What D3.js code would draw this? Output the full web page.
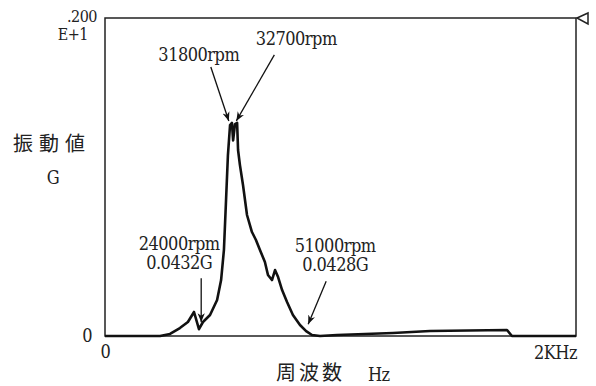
<!DOCTYPE html>
<html lang="ja">
<head>
<meta charset="UTF-8">
<title>振動値 - 周波数</title>
<script src="https://cdn.jsdelivr.net/npm/d3@7"></script>
<style>
  body{margin:0;background:#fff;}
  .num{font-family:"DejaVu Serif Condensed","DejaVu Serif",serif;font-size:18px;letter-spacing:-0.5px;fill:#222;}
  .sm{font-size:16px;}
  .jp{font-family:"Noto Sans CJK JP",sans-serif;font-size:20px;fill:#222;}
</style>
</head>
<body>
<div id="chart"></div>
<script>
// spectrum: frequency (Hz) and vibration (G)
var freqHz = [0,234,276,318,352,378,399,416,446,476,493,505,514,522,531,539,544,552,561,565,573,586,603,624,641,658,679,692,709,722,735,752,773,798,828,854,879,913,985,1223,1380,1707,1728,2000];
var gValue = [0,0,0.013,0.05,0.088,0.151,0.043,0.088,0.132,0.226,0.352,0.541,0.855,1.138,1.327,1.34,1.23,1.333,1.34,1.17,1.075,0.95,0.761,0.654,0.604,0.541,0.465,0.384,0.352,0.415,0.371,0.289,0.214,0.132,0.069,0.031,0.006,0,0.006,0.019,0.031,0.038,0,0];

// annotated points
var annRpm = [31800, 32700, 24000, 51000];
var annG   = [null, null, "0.0432G", "0.0428G"];

var xMax = 2000, yMax = 2.0;
var xTickLabels = ["0", "2KHz"];

var W=596,H=386;
var m={left:105,top:18,right:20,bottom:50};
var svg=d3.select("#chart").append("svg").attr("width",W).attr("height",H);

var x=d3.scaleLinear().domain([0,xMax]).range([m.left,W-m.right]);
var y=d3.scaleLinear().domain([0,yMax]).range([H-m.bottom,m.top]);

// frame
svg.append("rect").attr("x",x(0)).attr("y",y(yMax))
  .attr("width",x(xMax)-x(0)).attr("height",y(0)-y(yMax))
  .attr("fill","none").attr("stroke","#222").attr("stroke-width",1.5);

// marker at top right
svg.append("path")
  .attr("d","M"+(x(xMax)+1)+","+y(yMax)+" l11,-5 l0,11 z")
  .attr("fill","#fff").attr("stroke","#222").attr("stroke-width",1.5);

// x axis labels
var xAxis=d3.axisBottom(x).tickValues([0]).tickSize(0).tickFormat(function(){return xTickLabels[0];});
var gx=svg.append("g").attr("transform","translate(0,"+y(0)+")").call(xAxis);
gx.select(".domain").remove();
gx.attr("font-size",null).attr("font-family",null);
gx.selectAll("text").attr("class","num").attr("dy","1.05em").attr("fill",null);
svg.append("text").attr("class","num").attr("x",x(xMax)+1).attr("y",y(0)+23)
  .attr("text-anchor","end").text(xTickLabels[1]);

// y axis labels
var yAxis=d3.axisLeft(y).tickValues([0]).tickSize(0).tickPadding(13).tickFormat(function(){return "0";});
var gy=svg.append("g").attr("transform","translate("+x(0)+",0)").call(yAxis);
gy.select(".domain").remove();
gy.attr("font-size",null).attr("font-family",null);
gy.selectAll("text").attr("class","num").attr("fill",null);
svg.append("text").attr("class","num sm").attr("x",x(0)-8).attr("y",y(yMax)+4).attr("text-anchor","end").text(".200");
svg.append("text").attr("class","num sm").attr("x",x(0)-17).attr("y",y(yMax)+22).attr("text-anchor","end").text("E+1");

// axis titles
svg.append("text").attr("class","jp").attr("x",13).attr("y",151).attr("letter-spacing","6px").text("振動値");
svg.append("text").attr("class","num").attr("x",53).attr("y",184).attr("text-anchor","middle").text("G");
svg.append("text").attr("class","jp").attr("x",276).attr("y",380).attr("letter-spacing","3px").text("周波数");
svg.append("text").attr("class","num").attr("x",368).attr("y",381).text("Hz");

// curve
var pts=freqHz.map(function(f,i){return [f,gValue[i]];});
var line=d3.line().x(function(d){return x(d[0]);}).y(function(d){return y(d[1]);});
svg.append("path").datum(pts).attr("d",line)
  .attr("fill","none").attr("stroke","#111").attr("stroke-width",2.6).attr("stroke-linejoin","round");

// arrow heads
svg.append("defs").append("marker").attr("id","ah").attr("viewBox","0 0 10 10")
  .attr("refX",10).attr("refY",5).attr("markerWidth",9).attr("markerHeight",9)
  .attr("orient","auto").attr("markerUnits","userSpaceOnUse")
  .append("path").attr("d","M0,1 L10,5 L0,9 L3,5 z").attr("fill","#111");

// annotation layout: offsets from the tip (label centre, arrow start, tip)
var annLayout=[
  {tx:-30,ty:-60,sx:-18,sy:-54,dx:-1,dy:-2},
  {tx:60,ty:-76,sx:38,sy:-66,dx:3,dy:-2},
  {tx:-22,ty:-72,sx:0,sy:-44,dx:2,dy:-7},
  {tx:27,ty:-72,sx:18,sy:-43,dx:3,dy:-5}
];
annRpm.forEach(function(r,i){
  var hz=r/60;
  var gv=d3.max(pts.filter(function(p){return Math.abs(p[0]-hz)<12;}),function(p){return p[1];})||0;
  if(i===2) gv=0.0432; if(i===3) gv=0.0428;
  var L=annLayout[i];
  var px=x(hz)+L.dx, py=y(gv)+L.dy;
  svg.append("line").attr("x1",px+L.sx).attr("y1",py+L.sy).attr("x2",px).attr("y2",py)
    .attr("stroke","#111").attr("stroke-width",1.3).attr("marker-end","url(#ah)");
  svg.append("text").attr("class","num").attr("x",px+L.tx).attr("y",py+L.ty)
    .attr("text-anchor","middle").text(r+"rpm");
  if(annG[i]) svg.append("text").attr("class","num").attr("x",px+L.tx).attr("y",py+L.ty+19)
    .attr("text-anchor","middle").text(annG[i]);
});
</script>
</body>
</html>
